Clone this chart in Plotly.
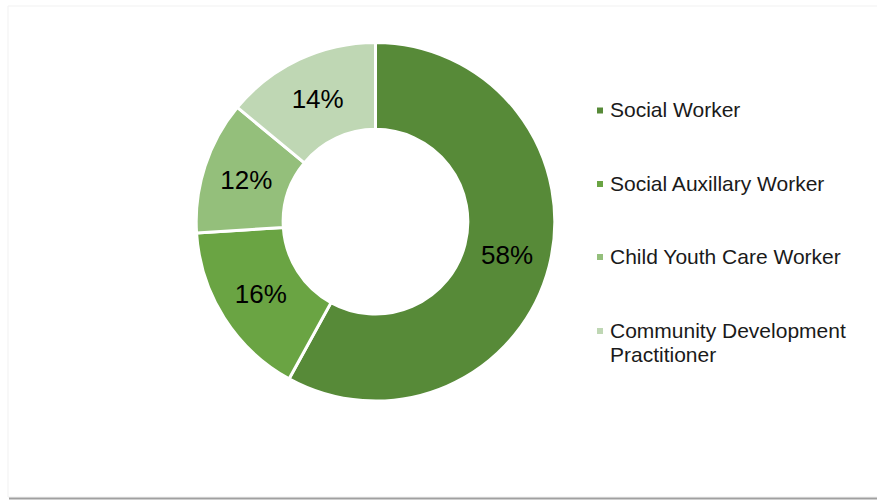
import plotly.graph_objects as go

# Workforce composition by occupation
categories = [
    "Social Worker",
    "Social Auxillary Worker",
    "Child Youth Care Worker",
    "Community Development Practitioner",
]
legend_lines = [
    ["Social Worker"],
    ["Social Auxillary Worker"],
    ["Child Youth Care Worker"],
    ["Community Development", "Practitioner"],
]
shares = [58, 16, 12, 14]
colors = ["#578A38", "#6AA443", "#94BF7B", "#BFD7B4"]

W, H = 877, 500
FONT = "Liberation Sans, Arial, sans-serif"


def px_x(x):
    return x / W


def px_y(y):
    return 1 - y / H


fig = go.Figure()

# Donut: centre (375.5, 221.7) px, outer radius ~179 px
cx, cy, r = 375.5, 221.7, 179.3
fig.add_trace(
    go.Pie(
        labels=categories,
        values=shares,
        sort=False,
        direction="clockwise",
        rotation=0,
        hole=0.515,
        marker=dict(colors=colors, line=dict(color="#FFFFFF", width=3)),
        texttemplate="%{value}%",
        textposition="inside",
        insidetextorientation="horizontal",
        textfont=dict(family=FONT, size=26, color="#000000"),
        showlegend=False,
        hoverinfo="label+percent",
        domain=dict(
            x=[px_x(cx - r), px_x(cx + r)],
            y=[px_y(cy + r), px_y(cy - r)],
        ),
    )
)

# Legend built from the category list: small square swatch + label lines
shapes = []
annotations = []
legend_y = [110.5, 184, 257, 331]
line_gap = 24.5
for lines, color, y in zip(legend_lines, colors, legend_y):
    shapes.append(
        dict(
            type="rect", xref="paper", yref="paper",
            x0=px_x(597), x1=px_x(603), y0=px_y(y + 3), y1=px_y(y - 3),
            fillcolor=color, line=dict(width=0),
        )
    )
    for i, text in enumerate(lines):
        annotations.append(
            dict(
                text=text, xref="paper", yref="paper",
                x=px_x(608), y=px_y(y - 1 + i * line_gap),
                xanchor="left", yanchor="middle",
                align="left", showarrow=False,
                font=dict(family=FONT, size=21, color="#1A1A1A"),
            )
        )

# Chart panel outline and bottom edge
shapes.append(
    dict(
        type="rect", xref="paper", yref="paper",
        x0=px_x(8), x1=px_x(880), y0=px_y(497), y1=px_y(6),
        fillcolor="rgba(0,0,0,0)", line=dict(color="#F1F1F1", width=1),
        layer="below",
    )
)
shapes.append(
    dict(
        type="line", xref="paper", yref="paper",
        x0=px_x(9), x1=px_x(877), y0=px_y(498.5), y1=px_y(498.5),
        line=dict(color="#A0A0A0", width=2),
    )
)

fig.update_layout(
    width=W,
    height=H,
    margin=dict(l=0, r=0, t=0, b=0),
    paper_bgcolor="#FFFFFF",
    plot_bgcolor="#FFFFFF",
    shapes=shapes,
    annotations=annotations,
    font=dict(family=FONT),
)

fig.write_html("out.html")
